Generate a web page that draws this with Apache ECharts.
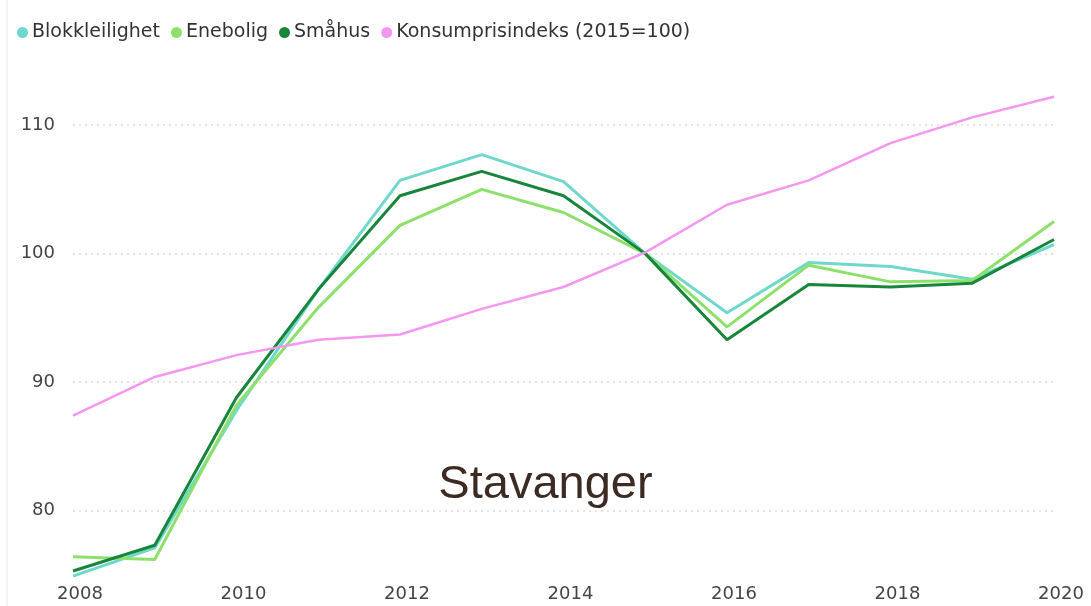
<!DOCTYPE html>
<html>
<head>
    <meta charset="utf-8">
    <title>Stavanger</title>
    <script src="https://cdn.jsdelivr.net/npm/echarts@6/dist/echarts.min.js"></script>
    <style>
        html, body { margin: 0; padding: 0; background: #fff; }
    </style>
</head>
<body>
<div id="main" style="width: 1091px;height:606px;"></div>
<script type="text/javascript">
    var years = ['2008', '2009', '2010', '2011', '2012', '2013', '2014', '2015', '2016', '2017', '2018', '2019', '2020'];
    var blokk = [74.9, 77.1, 87.8, 97.2, 105.7, 107.7, 105.6, 100, 95.4, 99.3, 99.0, 98.0, 100.7];
    var enebolig = [76.4, 76.2, 88.2, 95.8, 102.2, 105.0, 103.2, 100, 94.3, 99.1, 97.8, 97.9, 102.5];
    var smahus = [75.3, 77.3, 88.8, 97.2, 104.5, 106.4, 104.5, 100, 93.3, 97.6, 97.4, 97.7, 101.1];
    var kpi = [87.4, 90.4, 92.1, 93.3, 93.7, 95.7, 97.4, 100.1, 103.8, 105.7, 108.6, 110.6, 112.2];
    var yTicks = [80, 90, 100, 110];

    var myChart = echarts.init(document.getElementById('main'));

    function serie(name, data, color, width) {
        return {
            name: name,
            type: 'line',
            data: data,
            showSymbol: false,
            symbol: 'circle',
            lineStyle: { color: color, width: width },
            itemStyle: { color: color }
        };
    }

    var option = {
        animation: false,
        // tynn lyseblå kant til venstre
        graphic: [{
            type: 'rect',
            left: 6,
            top: 0,
            shape: { width: 2, height: 606 },
            style: { fill: '#edf5fa' }
        }],
        title: {
            text: 'Stavanger',
            left: 'center',
            top: 457,
            textStyle: {
                fontFamily: 'Liberation Sans',
                fontSize: 47,
                fontWeight: 'normal',
                color: '#3b2b22'
            }
        },
        legend: {
            left: 12,
            top: 18,
            icon: 'circle',
            itemWidth: 11,
            itemHeight: 11,
            itemGap: 11,
            textStyle: {
                fontFamily: 'DejaVu Sans',
                fontSize: 19,
                color: '#333',
                padding: [0, 0, 0, -1]
            }
        },
        grid: {
            left: 73,
            right: 37,
            top: 48,
            bottom: 26
        },
        xAxis: {
            type: 'category',
            data: years,
            boundaryGap: false,
            axisLine: { show: false },
            axisTick: { show: false },
            axisLabel: {
                interval: 1,
                margin: 5,
                padding: [0, 0, 0, 14],
                fontFamily: 'DejaVu Sans',
                fontSize: 18,
                color: '#444'
            }
        },
        yAxis: {
            type: 'value',
            min: 74.6,
            max: 116,
            axisLine: { show: false },
            axisTick: { show: false, customValues: yTicks },
            axisLabel: {
                customValues: yTicks,
                margin: 18,
                fontFamily: 'DejaVu Sans',
                fontSize: 18,
                color: '#444'
            },
            splitLine: {
                show: true,
                lineStyle: { color: '#dcdcdc', type: [2, 4], width: 1.5 }
            }
        },
        series: [
            serie('Blokkleilighet', blokk, '#6fd8cb', 3),
            serie('Enebolig', enebolig, '#8ee06c', 3),
            serie('Småhus', smahus, '#17863b', 3),
            serie('Konsumprisindeks (2015=100)', kpi, '#f597f1', 2.5)
        ]
    };

    myChart.setOption(option);
</script>
</body>
</html>
